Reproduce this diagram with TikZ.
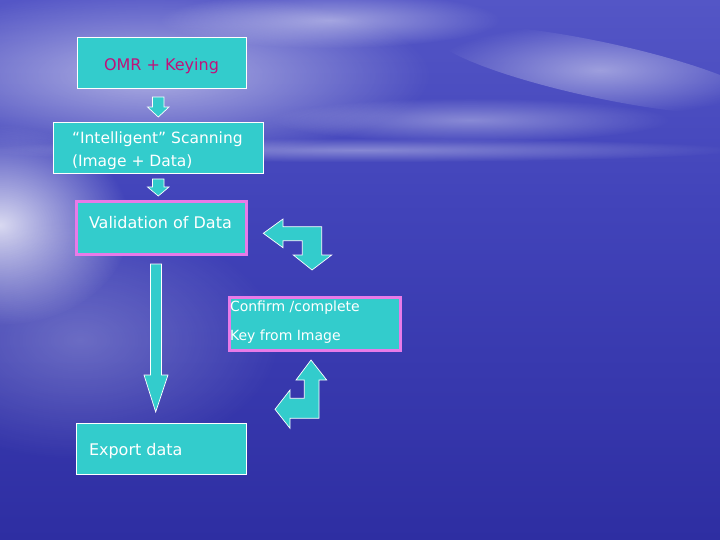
\documentclass[tikz,border=0pt]{standalone}
\usepackage{fontspec}
\setmainfont{DejaVu Sans}
\usetikzlibrary{fadings}
\definecolor{boxc}{HTML}{33CCCC}
\definecolor{pinkb}{HTML}{E87AE8}
\definecolor{omrtext}{HTML}{C0127A}
\definecolor{bgTop}{HTML}{5456C6}
\definecolor{bgMid}{HTML}{4244BA}
\definecolor{bgBot}{HTML}{2E2EA2}
\tikzfading[name=glow, inner color=transparent!0, outer color=transparent!100]
\newcommand{\shiftv}[2]{\raisebox{#1}[\height][\depth]{#2}}
\begin{document}
\begin{tikzpicture}[x=1pt,y=-1pt,
  box/.style={draw=white, line width=0.8pt, fill=boxc, text=white, font=\fontsize{16}{20}\selectfont},
  pinkbox/.style={box, draw=pinkb, line width=3pt},
  blockarrow/.style={draw=white, line width=0.7pt, fill=boxc, line join=miter},
  cloud/.style={white, path fading=glow}]
\useasboundingbox (0,0) rectangle (720,540);
% background
\shade[top color=bgTop, bottom color=bgMid] (0,0) rectangle (720,200);
\shade[top color=bgMid, bottom color=bgBot] (0,199.5) rectangle (720,540);
\fill[cloud, opacity=0.55] (150,75) ellipse (280 and 85);
\fill[cloud, opacity=0.45] (330,20) ellipse (170 and 28);
\fill[cloud, rotate around={-12:(600,70)}, opacity=0.45] (600,70) ellipse (170 and 28);
\fill[cloud, opacity=0.35] (470,120) ellipse (200 and 22);
\fill[cloud, opacity=0.35] (360,150) ellipse (380 and 12);
\fill[cloud, opacity=0.8] (0,225) ellipse (130 and 100);
\fill[cloud, opacity=0.25] (80,340) ellipse (200 and 120);

% boxes
\node[box, minimum width=169pt, minimum height=51pt, text=omrtext] (omr) at (161.5,62.5) {\shiftv{-4pt}{OMR + Keying}};
\node[box, minimum width=210pt, minimum height=51pt, inner xsep=19pt,
      font=\fontsize{15.5}{23}\selectfont] (scan) at (158,147.5) {\shiftv{-3pt}{\parbox[c]{172pt}{“Intelligent” Scanning\\(Image + Data)}}};
\node[pinkbox, minimum width=170pt, minimum height=52pt, inner xsep=13pt] (valid) at (161,228) {\shiftv{5pt}{\parbox[c]{144pt}{Validation of Data}}};
\node[pinkbox, minimum width=171pt, minimum height=53pt, inner xsep=1pt,
      font=\fontsize{14}{29}\selectfont] (conf) at (314.5,323.5) {\shiftv{1pt}{\parbox[c]{169pt}{Confirm /complete\\Key from Image}}};
\node[box, minimum width=170pt, minimum height=51pt, inner xsep=13pt] (export) at (161,448.5) {\shiftv{-3pt}{\parbox[c]{144pt}{Export data}}};

% small down arrows
\draw[blockarrow] (152.5,97) -- (164,97) -- (164,107) -- (169,107) -- (158.3,117) -- (147.5,107) -- (152.5,107) -- cycle;
\draw[blockarrow] (152.5,179) -- (164,179) -- (164,187) -- (169,187) -- (158.3,196) -- (147.5,187) -- (152.5,187) -- cycle;

% long down arrow
\draw[blockarrow] (150.5,264) -- (161.5,264) -- (161.5,375) -- (168,375) -- (155.7,412) -- (144,375) -- (150.5,375) -- cycle;

% bent arrow upper
\draw[blockarrow] (263.3,233.3) -- (283,219) -- (283,226.7) -- (321.7,226.7) -- (321.7,255) -- (331.7,255) -- (312,270) -- (293.3,255) -- (302.3,255) -- (302.3,240.7) -- (283,240.7) -- (283,247.7) -- cycle;

% bent arrow lower
\draw[blockarrow] (311,360) -- (326.7,380) -- (319,380) -- (319,418.3) -- (290,418.3) -- (290,428.3) -- (275,409.3) -- (290,390) -- (290,398.3) -- (304.3,398.3) -- (304.3,380) -- (296,380) -- cycle;
\end{tikzpicture}
\end{document}
